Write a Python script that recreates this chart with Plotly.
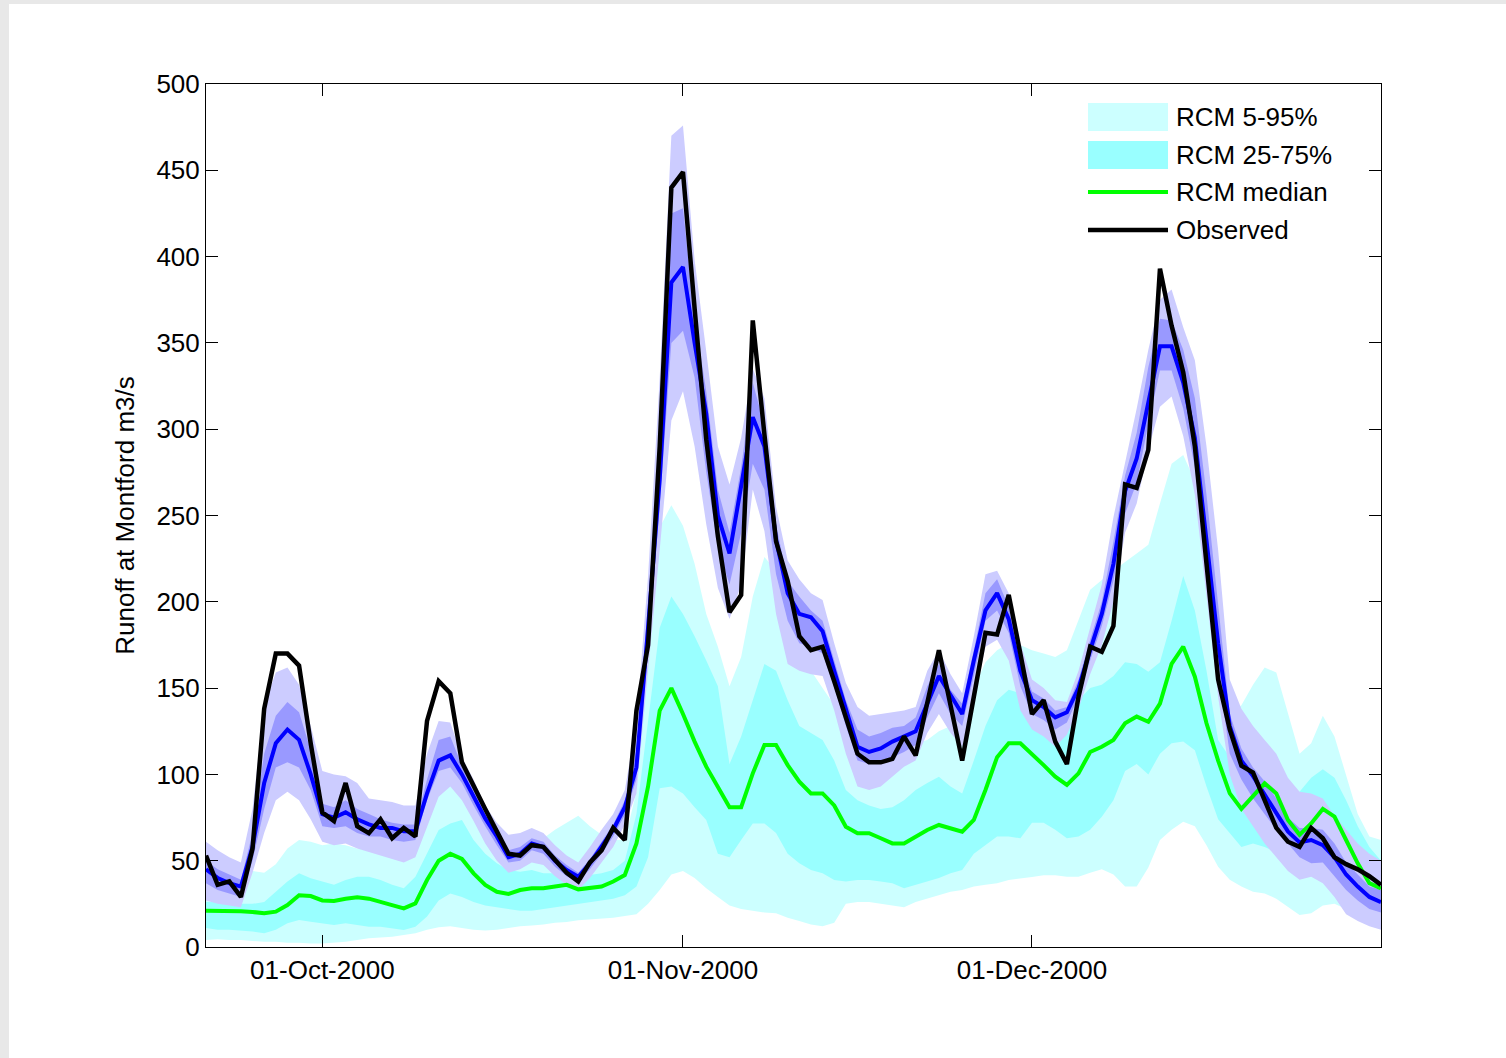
import pandas as pd
import plotly.graph_objects as go

# ---------------- data (daily values, 21-Sep-2000 .. 31-Dec-2000) ----------------
start_date = "2000-09-21"

observed = [53, 36, 38, 29, 57, 138, 170, 170, 163, 118,
            78, 73, 95, 70, 66, 74, 63, 69, 64, 131,
            154, 147, 107, 93, 80, 67, 54, 53, 59, 58,
            50, 43, 38, 49, 56, 69, 62, 137, 175, 290,
            440, 449, 370, 294, 238, 194, 204, 363, 297, 235,
            212, 180, 172, 174, 154, 133, 112, 107, 107, 109,
            122, 111, 141, 172, 140, 108, 145, 182, 181, 204,
            170, 135, 143, 119, 106, 145, 174, 171, 186, 268,
            266, 288, 393, 360, 333, 290, 222, 155, 126, 105,
            101, 85, 69, 61, 58, 69, 63, 52, 48, 45,
            41, 36]

blue_median = [45, 40, 37, 35, 58, 95, 118, 126, 120, 100,
               77, 75, 78, 74, 71, 69, 69, 67, 67, 89,
               108, 111, 100, 87, 74.5, 64, 52, 54, 60, 58,
               50, 44.6, 40.7, 48.5, 58, 68, 81, 104, 185, 271,
               385, 394, 350, 309, 250, 228, 267, 307, 290, 236,
               205, 193, 191, 183, 160, 137, 116, 113, 115, 119,
               122, 125, 141, 157, 146, 135, 166, 195, 205, 190,
               160, 143, 139, 133, 136, 150, 172, 193, 222, 264,
               283, 317, 348, 348, 327, 295, 237, 176, 128, 108,
               99, 88, 77, 67, 60.6, 62, 59, 52, 42, 35,
               29, 26]

blue_p05 = [27, 25, 24, 23, 43, 66, 85, 90, 85, 74,
            61, 59, 60, 57, 55, 53, 51, 49, 52, 70,
            87, 93, 85, 73, 60, 50, 43, 45, 49, 47.5,
            41, 36, 33, 40, 49, 58, 71, 89, 160, 230,
            305, 322, 290, 245, 208, 190, 210, 265, 241, 193,
            164, 160, 158, 157, 137, 112, 93, 91, 93, 99,
            104.5, 108, 124, 135, 124, 116, 143, 174, 178, 166,
            137, 126, 122, 116, 123, 138, 158, 175, 200, 240,
            257, 288, 313, 319, 296, 262, 205, 145, 100, 80,
            70, 60, 52, 44, 39, 40.7, 37, 29, 19, 15,
            12, 10]

blue_p25 = [37, 33, 31, 29, 50, 80, 104, 107, 104, 91,
            70, 69, 70, 66, 64, 64, 62, 61, 62, 85,
            102, 104, 95, 82, 70, 59, 49, 50, 56, 54,
            46.5, 41, 38, 45, 54, 64, 76.5, 97, 172, 255,
            350, 357, 330, 275, 232, 210, 240, 280, 265, 216,
            189, 176, 174, 170, 151, 128, 108, 106, 108, 110,
            113, 117, 133, 147, 135, 128, 157, 189, 195, 182,
            151, 135, 131.5, 126, 130, 145, 166, 186, 212, 251,
            269, 303, 334, 334, 312, 278, 222, 160, 112, 97,
            86, 77, 68, 60, 52, 48.5, 49, 41, 33, 27,
            22, 20]

blue_p75 = [50, 45, 42, 39, 66, 112, 134, 142, 136, 114,
            83, 81, 85, 80, 77, 74, 72, 71, 71, 97,
            120, 122, 105, 92, 77, 67, 56, 58, 63, 61,
            53, 47.5, 43, 51, 61, 71, 85, 114, 200, 290,
            425, 428, 365, 322, 265, 240, 278, 327, 302, 245,
            212, 203, 195, 189, 166, 143, 126, 122, 124, 127,
            128, 133, 151, 164, 149, 141, 172, 205, 213, 197,
            168, 148, 144, 137, 139, 155, 178, 200, 235, 273,
            298, 336, 364, 363, 346, 318, 262, 200, 135, 115,
            104, 96, 86, 75, 69, 69, 68, 60, 49, 42,
            35, 33]

blue_p95 = [61, 56, 52, 49, 80, 140, 159, 162, 152, 128,
            102, 100, 99, 95, 86, 85, 84, 82, 82, 112,
            131, 130, 110, 97, 82, 72, 65, 66, 69, 66,
            59, 53, 49, 58, 68, 77, 91, 130, 215, 330,
            470, 476, 398, 345, 290, 268, 295, 335, 318, 255,
            224, 213, 205, 201, 176, 153, 139, 134, 135, 136,
            137, 139, 160, 172, 158, 147, 180, 216, 218, 205,
            176, 155, 150, 143, 142, 160, 185, 210, 249, 280,
            312, 346, 375, 381, 359, 340, 290, 230, 155, 138,
            128, 120, 112, 98, 90, 89, 86, 76, 68, 60,
            54, 50]

rcm_p05 = [4, 4.5, 4, 4, 3.5, 3, 3, 2.5, 2.5, 2,
           2, 2.5, 3, 4, 5, 5.5, 6, 7, 8, 10,
           11.4, 12, 11, 10, 9.5, 10, 11, 12, 12.5, 13,
           14, 14.5, 15.5, 16, 16.5, 17, 18, 19, 25, 33,
           42, 44, 40, 34, 29, 24, 22, 21, 20, 19.5,
           17, 15, 13, 12, 14, 25, 26, 26, 25, 24,
           23, 26, 28, 30, 32, 33, 35, 36, 37, 38.8,
           39.5, 40.5, 41.5, 41.5, 40.7, 40.7, 43, 45, 42, 35,
           35, 46, 62, 68, 72.6, 70, 59, 46.5, 39, 35,
           32, 31, 28, 23, 18.5, 19.5, 24, 25, 22, 18,
           14, 12]

rcm_p25 = [11, 10, 10, 9.5, 9, 8, 10, 13.7, 15.6, 14.7,
           13.7, 12.7, 13.7, 12.7, 11.8, 11.8, 10.8, 9.8, 11.8, 17.6,
           27, 31, 29, 26, 24, 23, 22, 21, 21, 22,
           23, 24, 25, 26, 27, 28, 30, 35, 52, 92,
           93, 89, 81, 73.6, 54, 52, 62, 71.6, 71.6, 66,
           54, 48.5, 44.6, 42.7, 38.8, 37.9, 38.8, 38.8, 38, 37,
           34, 36, 38, 40, 42.7, 44.6, 54, 59, 64, 64,
           63, 72, 72, 68, 63, 64, 68, 75.5, 85, 102,
           106, 100, 112, 118, 119, 114, 93, 74, 66, 58,
           60, 58, 55, 50, 48, 52, 55, 50, 42, 35,
           30, 28]

rcm_median = [21, 21, 21, 20.7, 20.3, 19.5, 20.5, 24.3, 30, 29.5,
              27, 26.7, 28, 28.8, 28, 26, 24.3, 22.4, 25.3, 38.8,
              50, 54, 51, 42.7, 36, 32, 30.7, 33, 34, 34,
              35, 36, 33.4, 34, 35, 37.9, 41.7, 60, 93, 137,
              150, 135, 119, 104.5, 93, 81, 81, 100.6, 117, 117,
              105.4, 95.8, 89, 89, 82, 69.7, 65.9, 65.9, 63, 60,
              60, 64, 67.8, 70.7, 68.8, 66.8, 73.6, 91, 110, 118,
              118, 112, 105.4, 98.7, 93.9, 100.6, 113, 116, 120, 129.6,
              133.5, 130.5, 141, 164, 174, 156.6, 129.6, 108, 89, 80,
              87, 94.8, 89, 73.6, 65, 71.6, 80, 75.5, 62, 48.5,
              37, 34]

rcm_p75 = [26, 26, 25, 25, 25, 26, 32, 38, 42.7, 39.8,
           37.9, 36, 38.8, 40.7, 40.7, 38.8, 36, 34, 40.7, 54,
           67.8, 71.6, 73.6, 62, 54, 48.5, 44.6, 43.6, 44.6, 42.7,
           42.7, 44.6, 42.7, 41.7, 42.7, 44.6, 50, 77, 130, 185,
           203, 193, 180, 166, 151, 106, 122, 143, 164, 160,
           143, 128, 124, 120, 108, 91, 85, 82, 80, 81,
           85, 91, 95, 98.7, 93, 89, 108, 128, 143, 149,
           147, 143, 141, 140, 140, 143, 150, 152, 157, 165,
           164, 159.5, 165, 189, 215, 195, 160, 120, 110, 100,
           100, 105, 100, 92, 90, 98, 103, 98, 85, 70,
           58, 50]

rcm_p95 = [55, 53, 50, 47, 44, 43, 48, 57, 62, 61,
           59, 60, 59, 57, 56, 54, 52, 53, 62, 74,
           95, 105, 95, 85, 75, 68, 64, 62, 62, 63,
           68, 72, 76, 70, 65, 62, 62, 90, 175, 243,
           256, 244, 222, 193, 174, 151, 168, 203, 226, 218,
           203, 180, 160, 150, 140, 128, 118, 112, 110, 112,
           115, 118, 120, 125, 128, 135, 150, 165, 172, 176,
           175, 172, 170, 168, 172, 190, 207, 212.6, 218, 223,
           228, 233, 257, 280, 285, 270, 230, 180, 135, 140,
           152, 162, 159, 135, 112, 118, 134, 122, 99, 77,
           64, 62]

tick_dates = ["2000-10-01", "2000-11-01", "2000-12-01"]
tick_labels = ["01-Oct-2000", "01-Nov-2000", "01-Dec-2000"]
y_ticks = list(range(0, 501, 50))
legend_labels = ["RCM 5-95%", "RCM 25-75%", "RCM median", "Observed"]

dates = pd.date_range(start_date, periods=len(observed)).strftime("%Y-%m-%d").tolist()

# ---------------- styles ----------------
C_RCM_OUT = "#ccffff"
C_RCM_IN = "#99ffff"
C_B_OUT = "#ccccff"
C_B_IN = "#9999ff"
C_BLUE = "#0000ff"
C_GREEN = "#00ff00"
C_BLACK = "#000000"
FONT = "Liberation Sans, Arial, Helvetica, sans-serif"
FS = 26

W, H = 1506, 1058
ML, MR, MT, MB = 206, 125, 84, 111
PW, PH = W - ML - MR, H - MT - MB


def band(lower, upper, color):
    return [
        go.Scatter(x=dates, y=lower, mode="lines", line=dict(width=0, color=color),
                   showlegend=False, hoverinfo="skip"),
        go.Scatter(x=dates, y=upper, mode="lines", line=dict(width=0, color=color),
                   fill="tonexty", fillcolor=color, showlegend=False, hoverinfo="skip"),
    ]


fig = go.Figure()
for tr in band(rcm_p05, rcm_p95, C_RCM_OUT):
    fig.add_trace(tr)
for tr in band(rcm_p25, rcm_p75, C_RCM_IN):
    fig.add_trace(tr)
for tr in band(blue_p05, blue_p95, C_B_OUT):
    fig.add_trace(tr)
for tr in band(blue_p25, blue_p75, C_B_IN):
    fig.add_trace(tr)

fig.add_trace(go.Scatter(x=dates, y=blue_median, mode="lines",
                         line=dict(color=C_BLUE, width=4), showlegend=False))
fig.add_trace(go.Scatter(x=dates, y=rcm_median, mode="lines", name="RCM median",
                         line=dict(color=C_GREEN, width=4), showlegend=False))
fig.add_trace(go.Scatter(x=dates, y=observed, mode="lines", name="Observed",
                         line=dict(color=C_BLACK, width=4.5), showlegend=False))


def px_x(p):
    return (p - ML) / PW


def px_y(p):
    return (H - MB - p) / PH


shapes = [
    # white figure area on light grey window background
    dict(type="rect", xref="paper", yref="paper", layer="below",
         x0=px_x(9), x1=px_x(W + 20), y0=px_y(H + 20), y1=px_y(4),
         fillcolor="white", line=dict(width=0)),
]

# manual legend (MATLAB style)
lx0, lx1 = 1088, 1168
rows_y = [117, 155, 192, 230]
shapes.append(dict(type="rect", xref="paper", yref="paper",
                   x0=px_x(lx0), x1=px_x(lx1), y0=px_y(rows_y[0] + 14), y1=px_y(rows_y[0] - 14),
                   fillcolor=C_RCM_OUT, line=dict(width=0)))
shapes.append(dict(type="rect", xref="paper", yref="paper",
                   x0=px_x(lx0), x1=px_x(lx1), y0=px_y(rows_y[1] + 14), y1=px_y(rows_y[1] - 14),
                   fillcolor=C_RCM_IN, line=dict(width=0)))
shapes.append(dict(type="line", xref="paper", yref="paper",
                   x0=px_x(lx0), x1=px_x(lx1), y0=px_y(rows_y[2]), y1=px_y(rows_y[2]),
                   line=dict(color=C_GREEN, width=4)))
shapes.append(dict(type="line", xref="paper", yref="paper",
                   x0=px_x(lx0), x1=px_x(lx1), y0=px_y(rows_y[3]), y1=px_y(rows_y[3]),
                   line=dict(color=C_BLACK, width=4.5)))

annotations = []
for lab, yy in zip(legend_labels, rows_y):
    annotations.append(dict(xref="paper", yref="paper", x=px_x(1174), y=px_y(yy),
                            xanchor="left", yanchor="middle", text=lab, showarrow=False,
                            font=dict(family=FONT, size=FS, color="black")))

axis_common = dict(showline=True, linecolor="black", linewidth=1, mirror="ticks",
                   ticks="inside", ticklen=12, tickwidth=1, tickcolor="black",
                   showgrid=False, zeroline=False,
                   tickfont=dict(family=FONT, size=FS, color="black"))

fig.update_layout(
    width=W, height=H,
    margin=dict(l=ML, r=MR, t=MT, b=MB, autoexpand=False),
    paper_bgcolor="#e8e8e8",
    plot_bgcolor="white",
    font=dict(family=FONT, size=FS, color="black"),
    showlegend=False,
    hovermode=False,
    shapes=shapes,
    annotations=annotations,
    xaxis=dict(type="date", range=[dates[0], dates[-1]],
               tickmode="array", tickvals=tick_dates, ticktext=tick_labels,
               **axis_common),
    yaxis=dict(range=[0, 500], tickmode="array", tickvals=y_ticks,
               title=dict(text="Runoff at Montford m3/s", standoff=14,
                          font=dict(family=FONT, size=FS, color="black")),
               **axis_common),
)

fig.write_html("out.html",
               config={"displayModeBar": False},
               post_script="document.body.style.margin='0px';document.body.style.background='#e8e8e8';")
